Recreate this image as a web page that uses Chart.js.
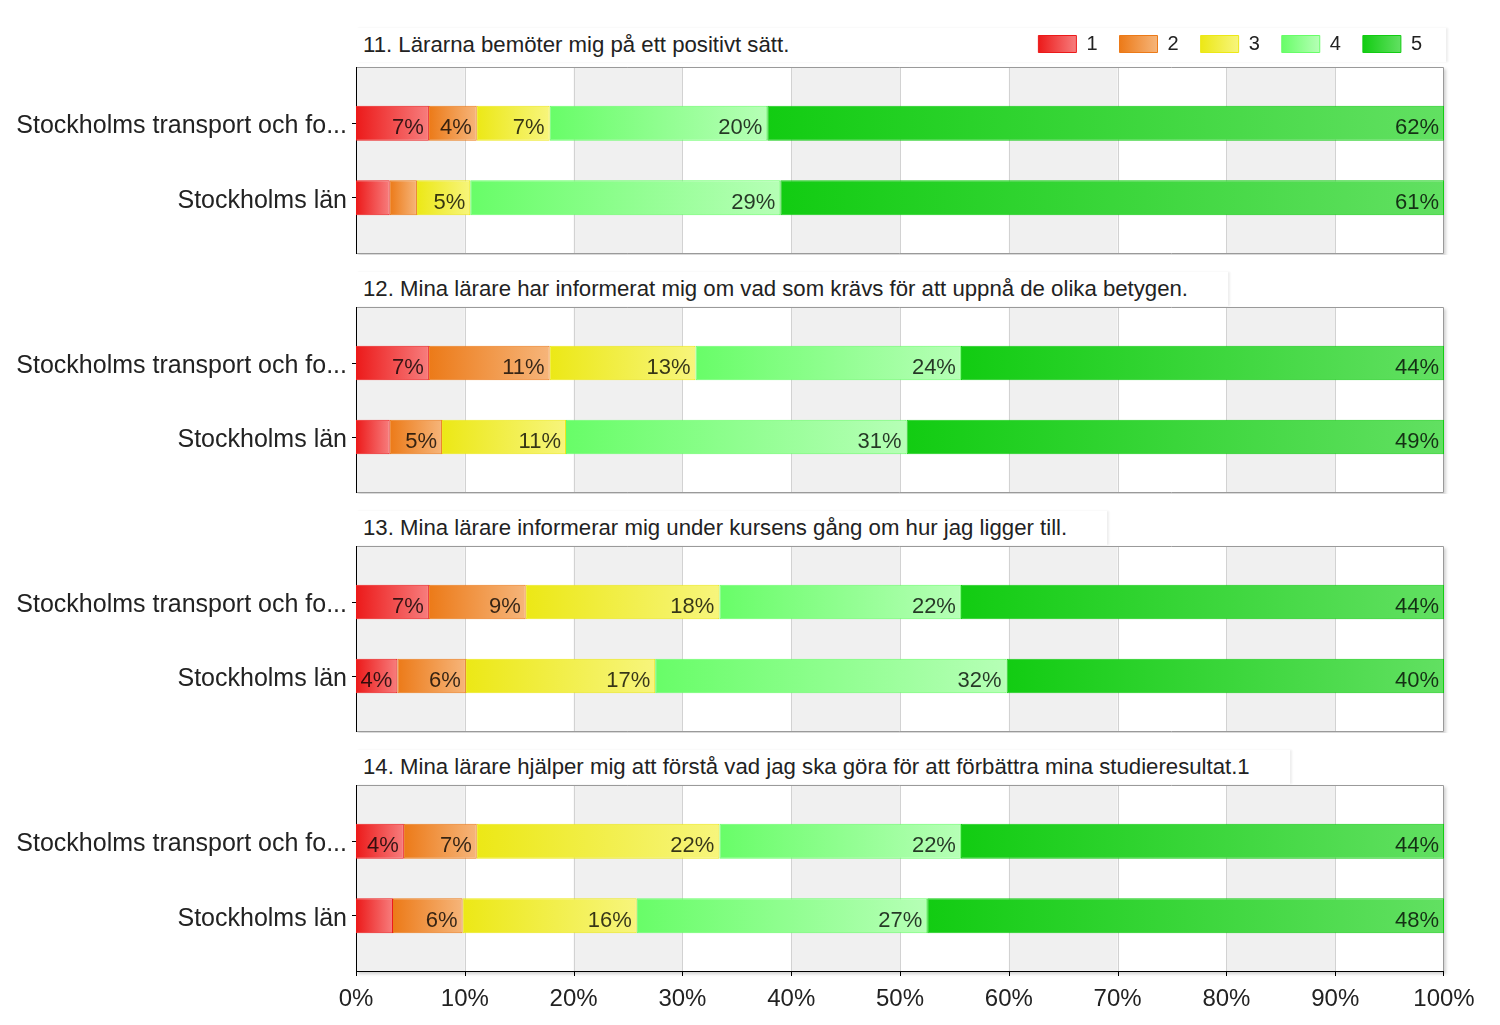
<!DOCTYPE html>
<html lang="sv">
<head>
<meta charset="utf-8">
<title>Lärarna – enkätsvar</title>
<script src="https://cdn.jsdelivr.net/npm/chart.js@4.4.1/dist/chart.umd.min.js"></script>
<style>
  body { margin: 0; background: #fff; }
  #wrap { position: relative; width: 1500px; height: 1025px; overflow: hidden; font-family: "Liberation Sans", Arial, sans-serif; }
  #wrap canvas { position: absolute; left: 0; z-index: 1; }
  .title { position: absolute; left: 356px; height: 34px; line-height: 34px; padding: 0 40px 0 7px;
           font-size: 22.2px; color: #222; background: #fff; white-space: nowrap; z-index: 0;
           box-shadow: 2px 0 2px rgba(0, 0, 0, 0.07); }
</style>
</head>
<body>
<div id="wrap">
  <div class="title" id="t11" style="top:28px; width:1043px;"></div>
  <div class="title" id="t12" style="top:272px;"></div>
  <div class="title" id="t13" style="top:511px;"></div>
  <div class="title" id="t14" style="top:750px;"></div>
  <canvas id="c11" width="1500" height="243" style="top:12px"></canvas>
  <canvas id="c12" width="1500" height="188" style="top:306px"></canvas>
  <canvas id="c13" width="1500" height="188" style="top:545px"></canvas>
  <canvas id="c14" width="1500" height="241" style="top:784px"></canvas>
</div>
<script>
const levels = ['1', '2', '3', '4', '5'];
const groups = ['Stockholms transport och fo...', 'Stockholms län'];
const questions = [
  '11. Lärarna bemöter mig på ett positivt sätt.',
  '12. Mina lärare har informerat mig om vad som krävs för att uppnå de olika betygen.',
  '13. Mina lärare informerar mig under kursens gång om hur jag ligger till.',
  '14. Mina lärare hjälper mig att förstå vad jag ska göra för att förbättra mina studieresultat.1',
];

// percent per answer level 1..5
const q11School = [6.7, 4.4, 6.7, 20.0, 62.2];
const q11County = [3.1, 2.5, 4.9, 28.5, 61.0];
const q12School = [6.7, 11.1, 13.4, 24.4, 44.4];
const q12County = [3.1, 4.8, 11.4, 31.3, 49.4];
const q13School = [6.7, 8.9, 17.8, 22.2, 44.4];
const q13County = [3.8, 6.3, 17.4, 32.3, 40.2];
const q14School = [4.4, 6.7, 22.3, 22.2, 44.4];
const q14County = [3.4, 6.4, 16.0, 26.7, 47.5];

const baseColors = ['#ec1a1a', '#ec7a18', '#ece816', '#68fd68', '#12cc12'];
const lightColors = ['#f77d7d', '#f6b57a', '#f7f57c', '#b6ffb6', '#62e062'];
const framePad = 19;

Chart.defaults.font.family = '"Liberation Sans", Arial, sans-serif';
Chart.defaults.color = '#222';

function segmentFill(ctx) {
  const chart = ctx.chart;
  const i = ctx.datasetIndex;
  const x = chart.scales.x;
  if (ctx.type !== 'data' || !chart.chartArea || !x) return baseColors[i];
  let start = 0;
  for (let k = 0; k < i; k++) start += chart.data.datasets[k].data[ctx.dataIndex];
  const end = start + chart.data.datasets[i].data[ctx.dataIndex];
  const x0 = x.getPixelForValue(start);
  const x1 = x.getPixelForValue(end);
  if (!isFinite(x0) || !isFinite(x1) || x1 - x0 < 1) return baseColors[i];
  const g = chart.ctx.createLinearGradient(x0, 0, x1, 0);
  g.addColorStop(0, baseColors[i]);
  g.addColorStop(1, lightColors[i]);
  return g;
}

// plot box with alternating bands, taller than the chart area
const framePlugin = {
  id: 'frame',
  afterUpdate(chart) {
    // legend swatches get their own left-to-right gradient
    const lg = chart.legend;
    if (!lg || !lg.options.display || !lg.legendHitBoxes) return;
    const bw = lg.options.labels.boxWidth;
    lg.legendItems.forEach((item, i) => {
      const hb = lg.legendHitBoxes[i];
      if (!hb) return;
      const g = chart.ctx.createLinearGradient(hb.left, 0, hb.left + bw, 0);
      g.addColorStop(0, baseColors[item.datasetIndex]);
      g.addColorStop(1, lightColors[item.datasetIndex]);
      item.fillStyle = g;
    });
  },
  beforeDraw(chart, args, opts) {
    const { ctx, chartArea: a, scales: { x } } = chart;
    const top = a.top - framePad;
    const bottom = a.bottom + framePad;
    ctx.save();
    ctx.shadowColor = 'rgba(0,0,0,0.18)';
    ctx.shadowBlur = 3;
    ctx.shadowOffsetX = 2;
    ctx.shadowOffsetY = 2;
    ctx.fillStyle = '#fff';
    ctx.fillRect(a.left, top, a.right - a.left, bottom - top);
    ctx.restore();

    ctx.save();
    ctx.fillStyle = '#f0f0f0';
    for (let v = x.min; v < x.max; v += 20) {
      const p0 = x.getPixelForValue(v);
      const p1 = x.getPixelForValue(v + 10);
      ctx.fillRect(p0, top, p1 - p0, bottom - top);
    }
    ctx.strokeStyle = '#d2d2d2';
    ctx.lineWidth = 1;
    for (let v = x.min + 10; v < x.max; v += 10) {
      const p = Math.round(x.getPixelForValue(v)) + 0.5;
      ctx.beginPath();
      ctx.moveTo(p, top);
      ctx.lineTo(p, bottom);
      ctx.stroke();
    }
    ctx.strokeStyle = '#9a9a9a';
    ctx.beginPath();
    ctx.moveTo(a.left, top + 0.5);
    ctx.lineTo(a.right - 0.5, top + 0.5);
    ctx.lineTo(a.right - 0.5, bottom - 0.5);
    ctx.lineTo(a.left, bottom - 0.5);
    ctx.stroke();
    ctx.restore();
  },
  beforeDatasetsDraw(chart, args, opts) {
    const { ctx, chartArea: a, scales: { x } } = chart;
    const top = a.top - framePad;
    const bottom = a.bottom + framePad;
    ctx.save();
    ctx.strokeStyle = '#000';
    ctx.lineWidth = 1;
    ctx.beginPath();
    ctx.moveTo(a.left + 0.5, top);
    ctx.lineTo(a.left + 0.5, bottom);
    ctx.stroke();
    if (opts.bottomAxis) {
      ctx.beginPath();
      ctx.moveTo(a.left, bottom - 0.5);
      ctx.lineTo(a.right, bottom - 0.5);
      for (let v = x.min; v <= x.max; v += 10) {
        const p = Math.round(x.getPixelForValue(v)) + (v === x.max ? -0.5 : 0.5);
        ctx.moveTo(p, bottom);
        ctx.lineTo(p, bottom + 4);
      }
      ctx.stroke();
    }
    ctx.restore();
  }
};

const valueLabels = {
  id: 'valueLabels',
  afterDatasetsDraw(chart) {
    const ctx = chart.ctx;
    ctx.save();
    ctx.font = '22px "Liberation Sans", Arial, sans-serif';
    ctx.fillStyle = 'rgba(0,0,0,0.78)';
    ctx.textAlign = 'right';
    ctx.textBaseline = 'alphabetic';
    chart.data.datasets.forEach((ds, i) => {
      chart.getDatasetMeta(i).data.forEach((bar, j) => {
        const text = Math.round(ds.data[j]) + '%';
        const w = Math.abs(bar.x - bar.base);
        if (w < ctx.measureText(text).width + 8) return;
        ctx.fillText(text, Math.max(bar.x, bar.base) - 5, bar.y + 11);
      });
    });
    ctx.restore();
  }
};

function makeChart(id, school, county, xScale, opts) {
  const datasets = levels.map((lvl, k) => ({
    label: lvl,
    data: [school[k], county[k]],
    backgroundColor: segmentFill,
    borderColor: baseColors[k],
    borderWidth: 1,
    borderSkipped: false,
    categoryPercentage: 1,
    barPercentage: 0.467,
  }));

  return new Chart(document.getElementById(id), {
    type: 'bar',
    data: { labels: groups, datasets },
    options: {
      indexAxis: 'y',
      responsive: false,
      animation: false,
      layout: { padding: { top: opts.padTop, bottom: opts.padBottom, left: 0, right: 56 } },
      plugins: {
        legend: opts.legend
          ? { display: true, position: 'top', align: 'end',
              labels: { boxWidth: 38, boxHeight: 17, padding: 22, color: '#222', font: { size: 20 } } }
          : { display: false },
        tooltip: { enabled: false },
        frame: { bottomAxis: !!opts.bottomAxis },
      },
      scales: {
        x: Object.assign({ stacked: true, min: 0, max: 100 }, xScale),
        y: {
          stacked: true,
          afterFit: s => { s.width = 356; },
          grid: { display: true, drawOnChartArea: false, offset: false, tickLength: 4, color: '#000' },
          border: { display: false },
          ticks: { padding: 5, labelOffset: 3, color: '#222', font: { size: 25 } },
        },
      },
    },
    plugins: [framePlugin, valueLabels],
  });
}

['t11', 't12', 't13', 't14'].forEach((id, i) => {
  document.getElementById(id).textContent = questions[i];
});

makeChart('c11', q11School, q11County, {
  position: 'top',
  ticks: { display: false },
  grid: { display: false, drawTicks: false },
  border: { display: false },
  afterFit: s => { s.height = 22; },
}, { legend: true, padTop: 0, padBottom: 19 });

makeChart('c12', q12School, q12County, { display: false }, { padTop: 19, padBottom: 19 });
makeChart('c13', q13School, q13County, { display: false }, { padTop: 19, padBottom: 19 });

makeChart('c14', q14School, q14County, {
  position: 'bottom',
  ticks: { stepSize: 10, padding: 32, color: '#222', font: { size: 24 }, maxRotation: 0, autoSkip: false,
           callback: v => v + '%' },
  grid: { display: false, drawTicks: false },
  border: { display: false },
  afterFit: s => { s.height = 72; s.paddingLeft = 0; s.paddingRight = 0; },
}, { bottomAxis: true, padTop: 19, padBottom: 0 });
</script>
</body>
</html>
